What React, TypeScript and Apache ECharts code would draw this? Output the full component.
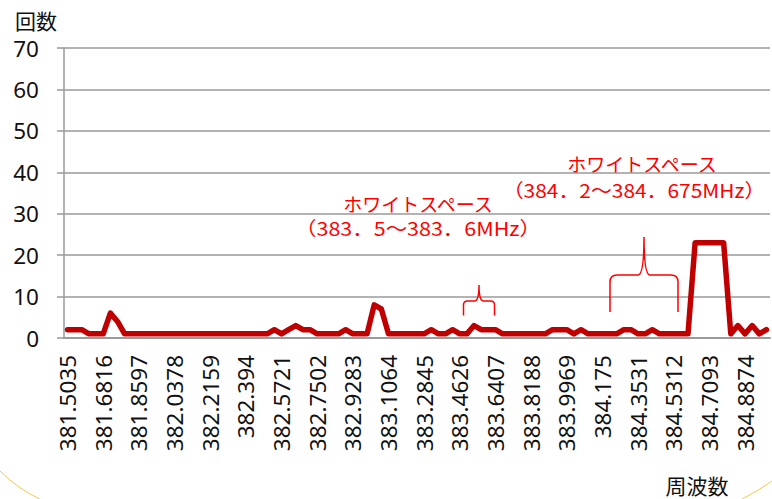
import React, { useEffect, useRef } from "react";
import * as echarts from "echarts";

const frequencies: string[] = [
  "381.5035", "381.5391", "381.5747", "381.6104", "381.646",
  "381.6816", "381.7172", "381.7528", "381.7885", "381.8241",
  "381.8597", "381.8953", "381.9309", "381.9666", "382.0022",
  "382.0378", "382.0734", "382.109", "382.1447", "382.1803",
  "382.2159", "382.2515", "382.2871", "382.3228", "382.3584",
  "382.394", "382.4296", "382.4652", "382.5009", "382.5365",
  "382.5721", "382.6077", "382.6433", "382.679", "382.7146",
  "382.7502", "382.7858", "382.8214", "382.8571", "382.8927",
  "382.9283", "382.9639", "382.9995", "383.0352", "383.0708",
  "383.1064", "383.142", "383.1776", "383.2133", "383.2489",
  "383.2845", "383.3201", "383.3557", "383.3914", "383.427",
  "383.4626", "383.4982", "383.5338", "383.5695", "383.6051",
  "383.6407", "383.6763", "383.7119", "383.7476", "383.7832",
  "383.8188", "383.8544", "383.89", "383.9257", "383.9613",
  "383.9969", "384.0325", "384.0681", "384.1038", "384.1394",
  "384.175", "384.2106", "384.2462", "384.2819", "384.3175",
  "384.3531", "384.3887", "384.4243", "384.46", "384.4956",
  "384.5312", "384.5668", "384.6024", "384.6381", "384.6737",
  "384.7093", "384.7449", "384.7805", "384.8162", "384.8518",
  "384.8874", "384.923", "384.9586", "384.9943",
];

const counts: number[] = [
  2, 2, 2, 1, 1, 1, 6, 4, 1, 1,
  1, 1, 1, 1, 1, 1, 1, 1, 1, 1,
  1, 1, 1, 1, 1, 1, 1, 1, 1, 2,
  1, 2, 3, 2, 2, 1, 1, 1, 1, 2,
  1, 1, 1, 8, 7, 1, 1, 1, 1, 1,
  1, 2, 1, 1, 2, 1, 1, 3, 2, 2,
  2, 1, 1, 1, 1, 1, 1, 1, 2, 2,
  2, 1, 2, 1, 1, 1, 1, 1, 2, 2,
  1, 1, 2, 1, 1, 1, 1, 1, 23, 23,
  23, 23, 23, 1, 3, 1, 3, 1, 2,
];

const yTicks = { min: 0, max: 70, interval: 10 };
const yAxisTitle = "回数";
const xAxisTitle = "周波数";
const annotationTitle = "ホワイトスペース";
const range1 = "（383．5～383．6MHz）";
const range2 = "（384．2～384．675MHz）";

const brace1 =
  "M463.5 315.5 L463.5 305 Q463.5 301 467.5 301 L474.5 301 Q479 301 479 285 Q479 301 483.5 301 L490.5 301 Q494.5 301 494.5 305 L494.5 315.5";
const brace2 =
  "M610 312 L610 282 Q610 275 617 275 L638 275 Q644 275 644 237 Q644 275 650 275 L671 275 Q678 275 678 282 L678 312";

echarts.graphic.registerShape("brace1", echarts.graphic.extendPath(brace1, {}));
echarts.graphic.registerShape("brace2", echarts.graphic.extendPath(brace2, {}));

export default function App() {
  const ref = useRef<HTMLDivElement>(null);
  useEffect(() => {
    if (!ref.current) return;
    const chart = echarts.init(ref.current, null, { renderer: "svg" });
    const gray = "#9a9a9a";
    const red = "#ff0000";
    const cjk = "'Noto Sans CJK JP', sans-serif";
    chart.setOption({
      animation: false,
      backgroundColor: "#ffffff",
      grid: { left: 64, right: 2, top: 48, bottom: 161, containLabel: false },
      xAxis: {
        type: "category",
        data: frequencies,
        boundaryGap: true,
        axisLine: { show: true, lineStyle: { color: gray, width: 2 } },
        axisTick: { show: false },
        splitLine: { show: false },
        axisLabel: {
          interval: 4,
          rotate: 90,
          margin: 17,
          fontSize: 22.5,
          fontFamily: "'Noto Sans', sans-serif",
          color: "#111",
        },
      },
      yAxis: {
        type: "value",
        min: yTicks.min,
        max: yTicks.max,
        interval: yTicks.interval,
        axisLine: { show: true, lineStyle: { color: gray, width: 1.5 } },
        axisTick: { show: true, length: 7, lineStyle: { color: gray, width: 1.5 } },
        splitLine: { show: true, lineStyle: { color: gray, width: 1.5 } },
        axisLabel: {
          margin: 25,
          fontSize: 22.5,
          fontFamily: "'Noto Sans', sans-serif",
          color: "#111",
        },
      },
      series: [
        {
          type: "line",
          data: counts,
          symbol: "none",
          lineStyle: { color: "#c00000", width: 5.5, cap: "round", join: "round" },
          z: 5,
        },
      ],
      graphic: [
        {
          type: "text",
          left: 15,
          top: 9,
          style: { text: yAxisTitle, fontSize: 21, fontFamily: cjk, fill: "#111" },
        },
        {
          type: "text",
          x: 697,
          y: 485,
          style: {
            text: xAxisTitle,
            fontSize: 21,
            fontFamily: cjk,
            fill: "#111",
            align: "center",
            verticalAlign: "middle",
          },
        },
        {
          type: "text",
          x: 418,
          y: 203,
          z: 10,
          style: { text: annotationTitle, fontSize: 19, fontFamily: cjk, fill: red, align: "center", verticalAlign: "middle" },
        },
        {
          type: "text",
          x: 418,
          y: 228,
          z: 10,
          scaleX: 1.13,
          style: { text: range1, fontSize: 19, fontFamily: cjk, fill: red, align: "center", verticalAlign: "middle" },
        },
        {
          type: "text",
          x: 642,
          y: 163,
          z: 10,
          style: { text: annotationTitle, fontSize: 19, fontFamily: cjk, fill: red, align: "center", verticalAlign: "middle" },
        },
        {
          type: "text",
          x: 634,
          y: 190,
          z: 10,
          scaleX: 1.1,
          style: { text: range2, fontSize: 19, fontFamily: cjk, fill: red, align: "center", verticalAlign: "middle" },
        },
        {
          type: "brace1",
          x: 0,
          y: 0,
          z: 10,
          style: { fill: "none", stroke: red, lineWidth: 1.5 },
        },
        {
          type: "brace2",
          x: 0,
          y: 0,
          z: 10,
          style: { fill: "none", stroke: red, lineWidth: 1.5 },
        },
        {
          type: "bezierCurve",
          shape: { x1: 0, y1: 471, x2: 40, y2: 499, cpx1: 18, cpy1: 489 },
          style: { fill: "none", stroke: "#f6c84c", lineWidth: 1 },
        },
        {
          type: "bezierCurve",
          shape: { x1: 742, y1: 499, x2: 772, y2: 481, cpx1: 758, cpy1: 491 },
          style: { fill: "none", stroke: "#f6c84c", lineWidth: 1 },
        },
      ],
    });
    return () => chart.dispose();
  }, []);
  return (
    <div
      ref={ref}
      style={{ position: "absolute", left: 0, top: 0, width: 772, height: 499 }}
    />
  );
}
